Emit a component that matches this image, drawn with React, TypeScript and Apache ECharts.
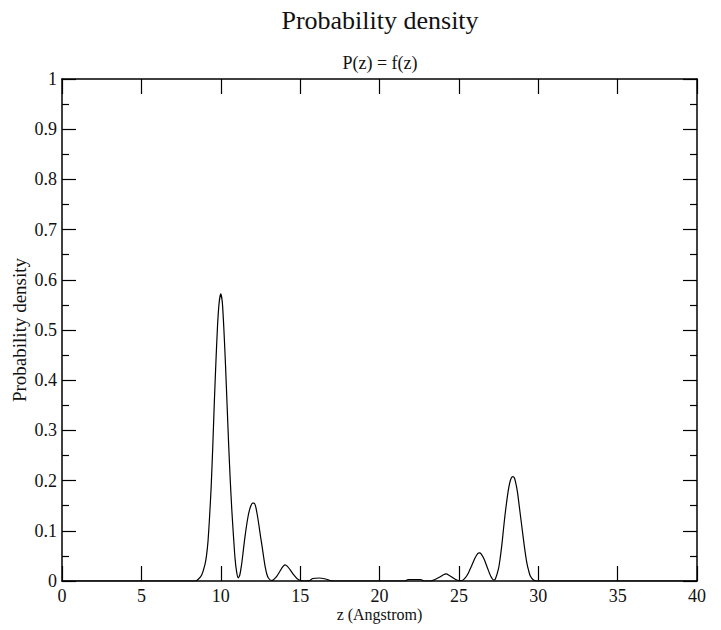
import React, { useEffect, useRef } from "react";
import * as echarts from "echarts";

const zValues: number[] = [
  0, 8.4, 8.6, 8.8, 9.0, 9.1, 9.2, 9.3, 9.4, 9.5, 9.6, 9.7, 9.8, 9.9, 10.0,
  10.1, 10.2, 10.3, 10.4, 10.5, 10.6, 10.7, 10.8, 10.9, 11.0, 11.1, 11.2,
  11.3, 11.4, 11.5, 11.6, 11.7, 11.8, 11.9, 12.0, 12.1, 12.2, 12.3, 12.4,
  12.5, 12.6, 12.7, 12.8, 12.9, 13.0, 13.2, 13.3, 13.5, 13.7, 13.9, 14.05,
  14.2, 14.4, 14.6, 14.8, 15.0, 15.3, 15.6, 15.8, 16.2, 16.6, 16.9, 17.1,
  21.6, 21.8, 22.6, 22.8, 23.2, 23.5, 23.8, 24.0, 24.2, 24.4, 24.6, 24.8,
  25.0, 25.2, 25.4, 25.6, 25.8, 26.0, 26.2, 26.3, 26.4, 26.6, 26.8, 27.0,
  27.2, 27.3, 27.5, 27.6, 27.7, 27.8, 27.9, 28.0, 28.1, 28.2, 28.3, 28.4,
  28.5, 28.6, 28.7, 28.8, 28.9, 29.0, 29.1, 29.2, 29.3, 29.4, 29.5, 29.7,
  29.9, 40,
];

const density: number[] = [
  0, 0, 0.004, 0.012, 0.032, 0.05, 0.08, 0.13, 0.19, 0.27, 0.36, 0.44, 0.51,
  0.555, 0.572, 0.555, 0.5, 0.43, 0.35, 0.27, 0.2, 0.14, 0.09, 0.045, 0.018,
  0.006, 0.012, 0.03, 0.055, 0.082, 0.105, 0.125, 0.14, 0.15, 0.155, 0.155,
  0.148, 0.132, 0.112, 0.09, 0.07, 0.048, 0.028, 0.014, 0.006, 0.001, 0.002,
  0.008, 0.018, 0.028, 0.032, 0.029, 0.021, 0.012, 0.005, 0.001, 0, 0.001,
  0.005, 0.006, 0.004, 0.001, 0, 0, 0.003, 0.003, 0, 0, 0.003, 0.008, 0.012,
  0.014, 0.011, 0.007, 0.003, 0.001, 0.001, 0.006, 0.016, 0.03, 0.045, 0.055,
  0.056, 0.054, 0.043, 0.026, 0.01, 0.002, 0.004, 0.025, 0.045, 0.07, 0.1,
  0.13, 0.155, 0.178, 0.195, 0.205, 0.208, 0.205, 0.193, 0.175, 0.15, 0.125,
  0.1, 0.075, 0.052, 0.033, 0.02, 0.01, 0.002, 0, 0,
];

const titleText = "Probability density";
const subtitleText = "P(z) = f(z)";
const xAxisName = "z (Angstrom)";
const yAxisName = "Probability density";

const SERIF = "'Liberation Serif', 'DejaVu Serif', serif";

export default function App() {
  const ref = useRef<HTMLDivElement>(null);
  useEffect(() => {
    if (!ref.current) return;
    const chart = echarts.init(ref.current, null, { renderer: "svg" });
    const data = zValues.map((z, i) => [z, density[i]]);
    const axisLine = { show: true, onZero: false, lineStyle: { color: "#000", width: 1.5 } };
    const tickStyle = { color: "#000", width: 1.2 };
    const labelStyle = { color: "#111", fontSize: 18, fontFamily: SERIF };
    chart.setOption({
      animation: false,
      backgroundColor: "#fff",
      graphic: [
        {
          type: "text",
          x: 380,
          y: 20,
          style: {
            text: titleText,
            font: `26px ${SERIF}`,
            fill: "#111",
            textAlign: "center",
            textVerticalAlign: "middle",
          },
        },
        {
          type: "text",
          x: 380,
          y: 63,
          style: {
            text: subtitleText,
            font: `18px ${SERIF}`,
            fill: "#111",
            textAlign: "center",
            textVerticalAlign: "middle",
          },
        },
      ],
      grid: { left: 62, right: 24, top: 79, bottom: 49, containLabel: false },
      xAxis: [
        {
          type: "value",
          position: "bottom",
          min: 0,
          max: 40,
          interval: 5,
          axisLine,
          axisTick: { show: true, inside: true, length: 15, lineStyle: tickStyle },
          axisLabel: { ...labelStyle, margin: 6 },
          splitLine: { show: false },
          name: xAxisName,
          nameLocation: "middle",
          nameGap: 25,
          nameMoveOverlap: false,
          nameTextStyle: { color: "#111", fontSize: 16, fontFamily: SERIF },
        },
        {
          type: "value",
          position: "top",
          min: 0,
          max: 40,
          interval: 5,
          axisLine,
          axisTick: { show: true, inside: true, length: 15, lineStyle: tickStyle },
          axisLabel: { show: false },
          splitLine: { show: false },
        },
      ],
      yAxis: [
        {
          type: "value",
          position: "left",
          min: 0,
          max: 1,
          interval: 0.1,
          axisLine,
          axisTick: { show: true, inside: true, length: 14, lineStyle: tickStyle },
          minorTick: { show: true, splitNumber: 2, length: 7, lineStyle: tickStyle },
          axisLabel: {
            ...labelStyle,
            margin: 5,
            formatter: (v: number) => String(Math.round(v * 10) / 10),
          },
          splitLine: { show: false },
          name: yAxisName,
          nameLocation: "middle",
          nameGap: 33,
          nameRotate: 90,
          nameMoveOverlap: false,
          nameTextStyle: { color: "#111", fontSize: 19, fontFamily: SERIF },
        },
        {
          type: "value",
          position: "right",
          min: 0,
          max: 1,
          interval: 0.1,
          axisLine,
          axisTick: { show: true, inside: true, length: 14, lineStyle: tickStyle },
          minorTick: { show: true, splitNumber: 2, length: 7, lineStyle: tickStyle },
          axisLabel: { show: false },
          splitLine: { show: false },
        },
      ],
      series: [
        {
          type: "line",
          data,
          xAxisIndex: 0,
          yAxisIndex: 0,
          showSymbol: false,
          smooth: 0.2,
          lineStyle: { color: "#000", width: 1.2 },
          z: 5,
        },
      ],
    });
    return () => chart.dispose();
  }, []);
  return (
    <div
      ref={ref}
      style={{ position: "fixed", left: 0, top: 0, width: 721, height: 630 }}
    />
  );
}
